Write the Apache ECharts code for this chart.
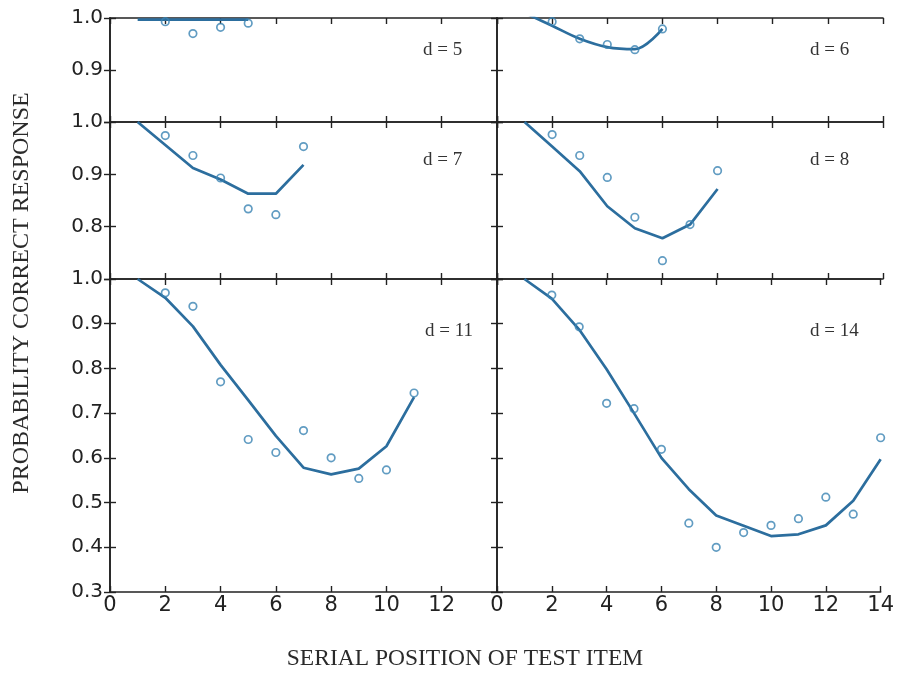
<!DOCTYPE html>
<html>
<head>
<meta charset="utf-8">
<script src="https://cdn.jsdelivr.net/npm/echarts@6/dist/echarts.min.js"></script>
<style>
html,body{margin:0;padding:0;background:#fff;}
#chart{width:897px;height:675px;}
</style>
</head>
<body>
<div id="chart"></div>
<script>
// ---- data ----
const dValues = [5, 6, 7, 8, 11, 14];
const yMins = [0.8, 0.8, 0.7, 0.7, 0.3, 0.3];
const xTicks = [0, 2, 4, 6, 8, 10, 12, 14];

const d5ObsX = [2, 3, 4, 5];
const d5Obs  = [0.993, 0.970, 0.982, 0.990];
const d5FitX = [1, 2, 3, 4, 5];
const d5Fit  = [0.997, 0.997, 0.997, 0.997, 0.997];

const d6ObsX = [2, 3, 4, 5, 6];
const d6Obs  = [0.993, 0.960, 0.949, 0.939, 0.979];
const d6FitX = [1, 2, 3, 4, 5, 6];
const d6Fit  = [1.010, 0.985, 0.960, 0.944, 0.940, 0.979];

const d7ObsX = [2, 3, 4, 5, 6, 7];
const d7Obs  = [0.974, 0.936, 0.893, 0.834, 0.823, 0.953];
const d7FitX = [1, 2, 3, 4, 5, 6, 7];
const d7Fit  = [1.000, 0.956, 0.912, 0.890, 0.863, 0.863, 0.918];

const d8ObsX = [2, 3, 4, 5, 6, 7, 8];
const d8Obs  = [0.976, 0.936, 0.894, 0.818, 0.735, 0.804, 0.907];
const d8FitX = [1, 2, 3, 4, 5, 6, 7, 8];
const d8Fit  = [1.000, 0.953, 0.906, 0.839, 0.797, 0.778, 0.804, 0.872];

const d11ObsX = [2, 3, 4, 5, 6, 7, 8, 9, 10, 11];
const d11Obs  = [0.969, 0.939, 0.770, 0.641, 0.612, 0.661, 0.600, 0.554, 0.573, 0.745];
const d11FitX = [1, 2, 3, 4, 5, 6, 7, 8, 9, 10, 11];
const d11Fit  = [1.000, 0.958, 0.894, 0.808, 0.729, 0.649, 0.578, 0.563, 0.576, 0.626, 0.736];

const d14ObsX = [2, 3, 4, 5, 6, 7, 8, 9, 10, 11, 12, 13, 14];
const d14Obs  = [0.964, 0.893, 0.722, 0.710, 0.619, 0.454, 0.400, 0.433, 0.449, 0.464, 0.512, 0.474, 0.645];
const d14FitX = [1, 2, 3, 4, 5, 6, 7, 8, 9, 10, 11, 12, 13, 14];
const d14Fit  = [1.000, 0.956, 0.887, 0.798, 0.700, 0.600, 0.530, 0.471, 0.448, 0.425, 0.429, 0.449, 0.504, 0.597];

const xTitle = 'SERIAL POSITION OF TEST ITEM';
const yTitle = 'PROBABILITY CORRECT RESPONSE';

// ---- build ----
const panels = [
  [d5ObsX, d5Obs, d5FitX, d5Fit],
  [d6ObsX, d6Obs, d6FitX, d6Fit],
  [d7ObsX, d7Obs, d7FitX, d7Fit],
  [d8ObsX, d8Obs, d8FitX, d8Fit],
  [d11ObsX, d11Obs, d11FitX, d11Fit],
  [d14ObsX, d14Obs, d14FitX, d14Fit]
];
const zip = (a, b) => a.map((v, i) => [v, b[i]]);

const gridBoxes = [
  {left: 110, top: 18, width: 387, height: 104},
  {left: 497, top: 18, width: 386, height: 104},
  {left: 110, top: 122, width: 387, height: 157},
  {left: 497, top: 122, width: 386, height: 157},
  {left: 110, top: 279, width: 387, height: 313},
  {left: 497, top: 279, width: 386, height: 313}
];
const labelPos = [[423, 50], [810, 50], [423, 160], [810, 160], [425, 331], [810, 331]];

const axisColor = '#222';
const lineColor = '#2c6e9e';
const dotColor = '#3a83b3';
const axLine = {show: true, lineStyle: {color: axisColor, width: 1.6}};
const axTick = {show: true, inside: true, length: 6, lineStyle: {color: axisColor, width: 1.4}};

const grid = [], xAxis = [], yAxis = [], series = [], graphic = [];
panels.forEach((p, i) => {
  const row = Math.floor(i / 2), col = i % 2;
  grid.push(Object.assign({containLabel: false}, gridBoxes[i]));
  xAxis.push({
    type: 'value', gridIndex: i, position: 'bottom',
    min: xTicks[0], max: xTicks[xTicks.length - 1], interval: 2,
    axisLine: axLine, axisTick: axTick, splitLine: {show: false},
    axisLabel: {
      show: row === 2, showMaxLabel: col === 1, showMinLabel: true,
      fontFamily: 'DejaVu Sans', fontSize: 21, color: '#222', margin: 3
    }
  });
  xAxis.push({
    type: 'value', gridIndex: i, position: 'top',
    min: xTicks[0], max: xTicks[xTicks.length - 1], interval: 2,
    axisLine: axLine, axisTick: axTick, splitLine: {show: false},
    axisLabel: {show: false}
  });
  yAxis.push({
    type: 'value', gridIndex: i, position: 'left',
    min: yMins[i], max: 1.0, interval: 0.1,
    axisLine: axLine, axisTick: axTick, splitLine: {show: false},
    axisLabel: {
      show: col === 0, showMinLabel: row === 2, showMaxLabel: true,
      fontFamily: 'DejaVu Sans', fontSize: 20, color: '#222', margin: 7,
      formatter: v => v.toFixed(1)
    }
  });
  yAxis.push({
    type: 'value', gridIndex: i, position: 'right',
    min: yMins[i], max: 1.0, interval: 0.1,
    axisLine: axLine, axisTick: axTick, splitLine: {show: false},
    axisLabel: {show: false}
  });
  series.push({
    type: 'line', xAxisIndex: 2 * i, yAxisIndex: 2 * i,
    data: zip(p[2], p[3]), showSymbol: false, symbol: 'none',
    smooth: i === 1 ? 0.35 : false, clip: true,
    lineStyle: {color: lineColor, width: 2.7}, z: 3
  });
  series.push({
    type: 'scatter', xAxisIndex: 2 * i, yAxisIndex: 2 * i,
    data: zip(p[0], p[1]), symbol: 'circle', symbolSize: 7.5,
    itemStyle: {color: 'rgba(255,255,255,0)', borderColor: dotColor, borderWidth: 1.7},
    z: 4
  });
  graphic.push({
    type: 'text', x: labelPos[i][0], y: labelPos[i][1],
    style: {text: 'd = ' + dValues[i], font: '19px "Liberation Serif"', fill: '#333',
            align: 'left', verticalAlign: 'middle'}
  });
});

graphic.push({
  type: 'text', x: 465, y: 659,
  style: {text: xTitle, font: '23.5px "Liberation Serif"', fill: '#2a2a2a',
          align: 'center', verticalAlign: 'middle'}
});
graphic.push({
  type: 'text', x: 22, y: 293, rotation: Math.PI / 2,
  style: {text: yTitle, font: '24px "Liberation Serif"', fill: '#2a2a2a',
          align: 'center', verticalAlign: 'middle'}
});

const chart = echarts.init(document.getElementById('chart'), null, {renderer: 'canvas'});
chart.setOption({
  animation: false,
  backgroundColor: '#ffffff',
  grid, xAxis, yAxis, series, graphic
});
</script>
</body>
</html>
